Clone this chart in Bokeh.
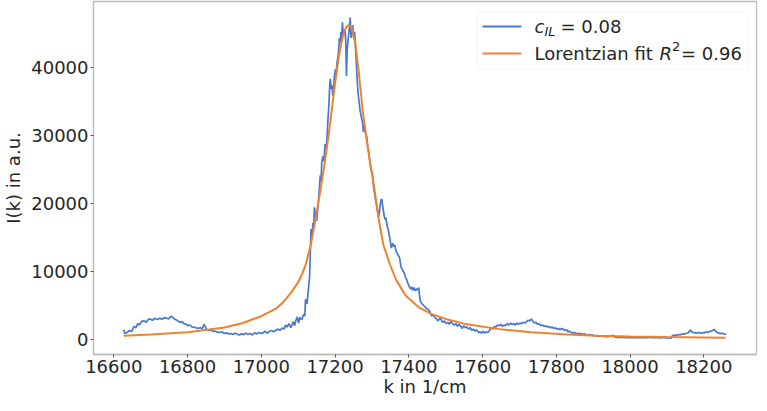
from bokeh.plotting import figure
from bokeh.models import Range1d, FixedTicker, Label, BoxAnnotation
from bokeh.embed import file_html
from bokeh.resources import INLINE

# ---- data ----
blue_k = [16627, 16630, 16636, 16642, 16648, 16655, 16660, 16665, 16669, 16675, 16682, 16688, 16694, 16699,
          16705, 16712, 16718, 16725, 16731, 16737, 16743, 16749, 16756, 16762, 16767, 16773, 16779, 16785,
          16790, 16795, 16801, 16807, 16813, 16821, 16828, 16835, 16840, 16845, 16848, 16852, 16858, 16864,
          16870, 16876, 16882, 16888, 16894, 16900, 16906, 16912, 16917, 16923, 16929, 16935, 16940, 16946,
          16952, 16958, 16964, 16970, 16976, 16982, 16988, 16994, 17000, 17005, 17010, 17016, 17022, 17028,
          17034, 17040, 17046, 17050, 17057, 17062, 17066, 17070, 17075, 17080, 17083, 17087, 17090, 17094,
          17098, 17101, 17105, 17110, 17115, 17118,
          17120, 17124, 17127, 17131, 17135, 17138, 17140, 17142, 17144, 17148, 17150, 17153, 17157, 17160,
          17162, 17164, 17167, 17170, 17173, 17176, 17179, 17181, 17183, 17185, 17187, 17190, 17192, 17194,
          17196, 17198, 17201, 17203, 17205, 17207, 17209, 17212, 17214, 17216, 17218, 17220, 17222, 17225,
          17227, 17229, 17231, 17233, 17235, 17237, 17239, 17241, 17243, 17244, 17246, 17248, 17250, 17253,
          17255, 17257, 17260, 17262, 17264, 17266, 17268, 17271, 17275, 17277, 17279, 17283, 17286, 17288,
          17290, 17292, 17294, 17296, 17298, 17301, 17303, 17305, 17308, 17310, 17312, 17314, 17316, 17318,
          17320, 17323, 17325, 17327, 17329, 17331, 17333, 17336, 17338, 17340, 17342, 17344, 17347, 17349,
          17351, 17353, 17355, 17357, 17360, 17362, 17364, 17366, 17370, 17375, 17377, 17379, 17383, 17386,
          17388, 17392, 17395, 17397, 17401, 17405, 17408, 17411, 17414, 17418, 17421, 17424, 17427, 17429,
          17431, 17435, 17440, 17444, 17448, 17453, 17457, 17462, 17466, 17471, 17475, 17479, 17484, 17488,
          17492, 17497, 17501, 17506, 17510, 17514, 17519, 17523, 17528, 17532, 17536, 17540, 17545, 17549,
          17554, 17558, 17562, 17567, 17571, 17575, 17580, 17584, 17589, 17593, 17597, 17602, 17606, 17610,
          17614, 17619, 17623, 17628, 17632, 17636, 17641, 17645, 17650, 17654, 17658, 17662, 17667, 17671,
          17676, 17680, 17684, 17689, 17693, 17697, 17702, 17706, 17710, 17715, 17719, 17723, 17728, 17732,
          17736, 17741, 17745, 17749, 17754, 17758, 17762, 17767, 17771, 17776, 17780, 17784, 17789, 17793,
          17797, 17802, 17806, 17810, 17815, 17819, 17823, 17828, 17832, 17836, 17841, 17845, 17849, 17854,
          17858, 17863, 17867, 17872, 17876, 17880, 17885, 17889, 17893, 17898, 17902, 17907, 17911, 17915,
          17920, 17924, 17929, 17933, 17938, 17942, 17946, 17950, 17954, 17958, 17963, 17967, 17972, 17976,
          17981, 17985, 17989, 17994, 17998, 18003, 18007, 18011, 18016, 18020, 18025, 18029, 18033, 18038,
          18042, 18046, 18051, 18055, 18059, 18064, 18068, 18072, 18077, 18081, 18085, 18090, 18094, 18098,
          18103, 18107, 18111, 18114, 18116, 18120, 18124, 18128, 18133, 18137, 18141, 18146, 18150, 18154,
          18159, 18163, 18167, 18172, 18176, 18180, 18185, 18189, 18193, 18198, 18202, 18206, 18211, 18215,
          18219, 18224, 18228, 18232, 18237, 18241, 18246, 18250, 18254, 18259, 18261]
blue_I = [1400, 850, 1000, 1300, 1150, 1900, 1700, 2300, 2100, 2600, 2750, 2500, 2950, 3000,
          2800, 3100, 2900, 3100, 2950, 3200, 3150, 3000, 3400, 3100, 2900, 2750, 2500, 2600,
          2300, 2250, 2000, 2100, 1800, 1750, 1600, 1700, 1550, 2200, 1900, 1400, 1300, 1350,
          1150, 1200, 1050, 1000, 1100, 850, 950, 800, 850, 700, 900, 750, 650, 800,
          700, 900, 750, 850, 650, 950, 800, 1000, 850, 950, 1200, 900, 1150, 1300,
          1100, 1350, 1500, 1300, 1650, 1500, 2100, 1800, 2300, 1700, 2100, 2600, 2000, 2800,
          3300, 2400, 3200, 2900, 3700, 3400,
          5900, 5200, 6900, 9200, 16200, 15200, 17100, 16400, 19400, 18000, 17400, 19000, 21800, 24100,
          23200, 26000, 26900, 26200, 28700, 27900, 30400, 32500, 34100, 36500, 38300, 36800, 37300, 35800,
          36400, 38500, 39700, 38600, 40600, 41200, 42000, 44300, 43600, 45200, 44100, 46600, 45000, 44800,
          45600, 43900, 38700, 42500, 43800, 44800, 45900, 47300, 44800, 44300, 45600, 46200, 44600, 45200,
          43400, 41500, 38300, 36500, 35500, 34600, 33600, 32800, 31800, 30500, 31500, 30200, 29800, 28700,
          28000, 27300, 26300, 25500, 24900, 24500, 23300, 22200, 21200, 20400, 20000, 19400, 18700, 18000,
          18600, 19900, 20500, 20600, 19600, 19000, 18200, 17600, 17900, 17100, 16500, 16200, 15300, 14800,
          14000, 13400, 13900, 14100, 13600, 13900, 13300, 12900, 12500, 12000, 11300, 10600, 10200, 9900,
          9700, 9000, 8700, 8300, 7800, 7400, 7700, 7200, 7600, 7100, 7400, 7300, 7600, 6500,
          5700, 5300, 5000, 4800, 4500, 4400, 4100, 3400, 3700, 3200, 3000, 2700, 3100, 2900,
          2500, 2700, 2300, 2500, 2200, 2600, 2300, 2100, 2300, 1900, 2200, 2000, 1600, 2000,
          1700, 1800, 1500, 1700, 1300, 1500, 1200, 1400, 1000, 1100, 900, 1200, 900, 1100,
          1000, 1300, 1700, 1500, 1900, 1800, 2100, 2000, 2200, 1900, 2100, 2000, 2300, 2100,
          2400, 2200, 2300, 2100, 2400, 2200, 2400, 2300, 2500, 2400, 2600, 2800, 2700, 3000,
          2700, 2400, 2500, 2200, 2300, 2000, 2100, 1900, 2000, 1800, 1900, 1700, 1800, 1600,
          1700, 1500, 1600, 1400, 1600, 1500, 1300, 1400, 1100, 1200, 1000, 900, 1000, 800,
          900, 800, 850, 750, 800, 700, 650, 700, 600, 650, 550, 500, 550, 450,
          500, 420, 450, 380, 420, 400, 550, 480, 600, 350, 330, 300, 320, 280,
          300, 260, 300, 260, 280, 240, 270, 240, 260, 230, 270, 240, 260, 230,
          250, 240, 300, 240, 260, 230, 270, 240, 260, 220, 250, 230, 260, 220,
          240, 200, 150, 450, 600, 550, 650, 600, 700, 650, 800, 750, 850, 900,
          1000, 1400, 1100, 1000, 950, 900, 1000, 950, 900, 1000, 950, 1100, 1000, 1100,
          1200, 1300, 1450, 1200, 1000, 900, 850, 900, 800, 750, 780]

fit_k = [16627, 16700, 16800, 16900, 16950, 17000, 17040, 17060, 17080, 17100, 17110, 17120, 17135,
         17148, 17160, 17170, 17180, 17190, 17200, 17210, 17220, 17230, 17237, 17245, 17255, 17265,
         17275, 17285, 17295, 17305, 17318, 17331, 17349, 17366, 17392, 17427, 17462, 17500, 17558,
         17645, 17732, 17819, 17906, 18000, 18100, 18200, 18259]
fit_I = [520, 700, 1050, 1750, 2400, 3400, 4500, 5500, 6800, 8400, 9500, 10900, 14100,
         17900, 21800, 25200, 29000, 33200, 37600, 41500, 44300, 45900, 46200, 45800, 43500, 39000,
         33600, 29600, 26000, 22800, 17800, 13900, 11000, 8700, 6400, 4700, 3700, 3000, 2200,
         1500, 1050, 750, 540, 420, 330, 280, 240]

x_ticks = [16600, 16800, 17000, 17200, 17400, 17600, 17800, 18000, 18200]
y_ticks = [0, 10000, 20000, 30000, 40000]

x_label = "k in 1/cm"
y_label = "I(k) in a.u."
fit_r2 = "0.96"
c_il = "0.08"

# ---- style ----
BLUE = "#4878cf"
ORANGE = "#ef8230"
FRAME = "#bdbdbd"
TXT = "#262626"
FONT = "DejaVu Sans"
FS = "18px"
FS_SMALL = "13px"

FW, FH = 663, 353

p = figure(frame_width=FW, frame_height=FH, output_backend="svg", toolbar_location=None,
           x_range=Range1d(16545, 18343), y_range=Range1d(-2230, 49660),
           min_border_left=0, min_border_right=2, min_border_top=1, min_border_bottom=0,
           background_fill_color="white", border_fill_color="white")

p.line(blue_k, blue_I, line_color=BLUE, line_width=1.7)
p.line(fit_k, fit_I, line_color=ORANGE, line_width=2)

p.grid.visible = False
p.outline_line_color = FRAME
p.outline_line_width = 1.3

for ax in (p.xaxis[0], p.yaxis[0]):
    ax.axis_line_color = FRAME
    ax.axis_line_width = 1.3
    ax.major_tick_line_color = "#555555"
    ax.major_tick_in = 0
    ax.major_tick_out = 3
    ax.minor_tick_line_color = None
    ax.major_label_text_font = FONT
    ax.major_label_text_font_size = FS
    ax.major_label_text_color = TXT
    ax.axis_label_text_font = FONT
    ax.axis_label_text_font_size = FS
    ax.axis_label_text_font_style = "normal"
    ax.axis_label_text_color = TXT
    ax.major_label_standoff = 2

p.xaxis[0].ticker = FixedTicker(ticks=x_ticks)
p.yaxis[0].ticker = FixedTicker(ticks=y_ticks)
p.xaxis[0].axis_label = x_label
p.yaxis[0].axis_label = y_label
p.xaxis[0].axis_label_standoff = 0
p.yaxis[0].axis_label_standoff = 4

# ---- legend (drawn by hand to get sub/superscripts) ----
LW, LH = 271, 58
lr = FW - 8
lt = FH - 10
ll = lr - LW
lb = lt - LH
p.add_layout(BoxAnnotation(left=ll, right=lr, top=lt, bottom=lb,
                           left_units="screen", right_units="screen",
                           top_units="screen", bottom_units="screen",
                           fill_color="white", fill_alpha=0.85,
                           line_color="#dddddd", line_width=1, border_radius=4))

row1 = lt - 15
row2 = lt - 42
for yy, col in ((row1, BLUE), (row2, ORANGE)):
    p.add_layout(BoxAnnotation(left=ll + 5, right=ll + 44, top=yy + 1, bottom=yy - 1,
                               left_units="screen", right_units="screen",
                               top_units="screen", bottom_units="screen",
                               fill_color=col, fill_alpha=1, line_color=None))

tx = ll + 57

def lab(x, y, t, size=FS, style="normal"):
    p.add_layout(Label(x=x, y=y, x_units="screen", y_units="screen", text=t,
                       text_font=FONT, text_font_size=size, text_font_style=style,
                       text_color=TXT, text_baseline="middle", text_align="left"))

lab(tx, row1, "c", style="italic")
lab(tx + 10, row1 - 5, "IL", size=FS_SMALL, style="italic")
lab(tx + 26, row1, "= " + c_il)

lab(tx, row2, "Lorentzian fit")
lab(tx + 125, row2, "R", style="italic")
lab(tx + 137.5, row2 + 7, "2", size=FS_SMALL)
lab(tx + 146.5, row2, "= " + fit_r2)

open("out.html", "w").write(file_html(p, INLINE))
